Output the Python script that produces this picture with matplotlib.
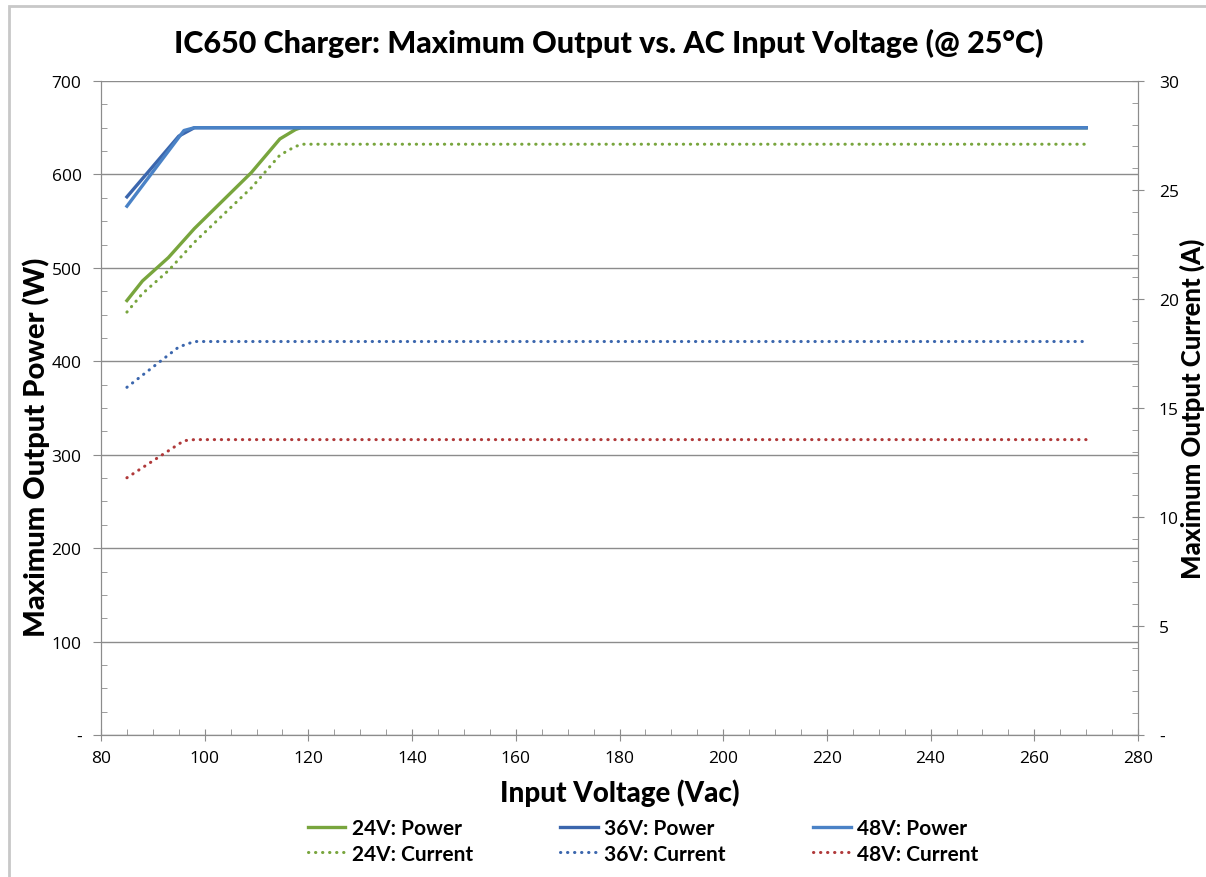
import matplotlib.pyplot as plt
from matplotlib.ticker import MultipleLocator
from matplotlib.patches import Rectangle

# data
v_24p = [85, 88, 93, 98, 109, 114.5, 117.5, 118.5, 270]
p_24 = [465, 486, 511, 542, 602, 638, 648, 650, 650]
v_36p = [85, 95, 98, 270]
p_36 = [576, 641, 650, 650]
v_48p = [85, 96, 98, 270]
p_48 = [566, 647, 650, 650]

v_24c = [85, 88, 93, 98, 109, 114.5, 117.5, 119, 270]
i_24 = [19.4, 20.25, 21.3, 22.6, 25.1, 26.6, 27.0, 27.1, 27.1]
v_36c = [85, 95, 98, 270]
i_36 = [15.95, 17.8, 18.05, 18.05]
v_48c = [85, 96, 98, 270]
i_48 = [11.8, 13.5, 13.55, 13.55]

green = '#78a53d'
blue36 = '#3b66ad'
blue48 = '#4a82c6'
red48 = '#b0393a'
grey = '#8c8c8c'

plt.rcParams['font.family'] = ['Open Sans', 'DejaVu Sans']

W, H = 1206, 878
fig = plt.figure(figsize=(W/100, H/100), dpi=100)
ax = fig.add_axes([101/W, 1 - 736/H, (1138-101)/W, (736-82)/H])
ax2 = ax.twinx()

fig.patches.append(Rectangle((9/W, -0.1), 1.2, 1 - 7/H + 0.1, transform=fig.transFigure,
                             fill=False, edgecolor='#c8c8c8', lw=2))

dot = (0, (0.1, 2.2))
l1, = ax.plot(v_24p, p_24, color=green, lw=2.4, label='24V: Power')
l3, = ax.plot(v_36p, p_36, color=blue36, lw=2.4, label='36V: Power')
l5, = ax.plot(v_48p, p_48, color=blue48, lw=2.4, label='48V: Power')
l2, = ax2.plot(v_24c, i_24, color=green, lw=2.2, ls=dot, dash_capstyle='round', label='24V: Current')
l4, = ax2.plot(v_36c, i_36, color=blue36, lw=2.2, ls=dot, dash_capstyle='round', label='36V: Current')
l6, = ax2.plot(v_48c, i_48, color=red48, lw=2.2, ls=dot, dash_capstyle='round', label='48V: Current')

ax.set_xlim(80, 280)
ax.set_ylim(0, 700)
ax2.set_ylim(0, 30)

ax.xaxis.set_major_locator(MultipleLocator(20))
ax.xaxis.set_minor_locator(MultipleLocator(5))
ax.yaxis.set_minor_locator(MultipleLocator(25))
ax2.yaxis.set_minor_locator(MultipleLocator(1))

ax.set_yticks(range(0, 701, 100))
ax.set_yticklabels(['-'] + [str(v) for v in range(100, 701, 100)])
ax2.set_yticks(range(0, 31, 5))
ax2.set_yticklabels(['-'] + [str(v) for v in range(5, 31, 5)])

ax.grid(axis='y', which='major', color=grey, lw=1)
ax.set_axisbelow(True)

for a in (ax, ax2):
    for s in a.spines.values():
        s.set_color(grey)
    a.spines['top'].set_visible(False)

ax.tick_params(axis='x', which='major', direction='inout', length=8, color=grey, labelsize=12.5, pad=7)
ax.tick_params(axis='x', which='minor', direction='in', length=4, color=grey)
ax.tick_params(axis='y', which='major', direction='out', length=6, color=grey, labelsize=12.5, pad=8)
ax.tick_params(axis='y', which='minor', direction='in', length=4, color=grey)
ax2.tick_params(axis='y', which='major', direction='inout', length=8, color=grey, labelsize=12.5, pad=11)
ax2.tick_params(axis='y', which='minor', direction='in', length=4, color=grey)

bold = dict(family='Lato', fontweight='black')
fig.text(609/W, 1 - 43/H, 'IC650 Charger: Maximum Output vs. AC Input Voltage (@ 25°C)',
         fontsize=22, ha='center', va='center', **bold)
ax.set_xlabel('Input Voltage (Vac)', fontsize=20, labelpad=9, **bold)
fig.text(36/W, 1 - 447/H, 'Maximum Output Power (W)', fontsize=21, rotation=90,
         ha='center', va='center', **bold)
fig.text(1192/W, 1 - 409/H, 'Maximum Output Current (A)', fontsize=18.5, rotation=90,
         ha='center', va='center', **bold)

fig.legend(handles=[l1, l2, l3, l4, l5, l6], ncol=3, loc='center',
           bbox_to_anchor=(643/W, 1 - 842/H), frameon=False,
           prop={'family': 'Lato', 'weight': 'bold', 'size': 15},
           handlelength=1.8, columnspacing=4.2, labelspacing=0.25, handletextpad=0.3)

fig.savefig('out.png', dpi=100)
